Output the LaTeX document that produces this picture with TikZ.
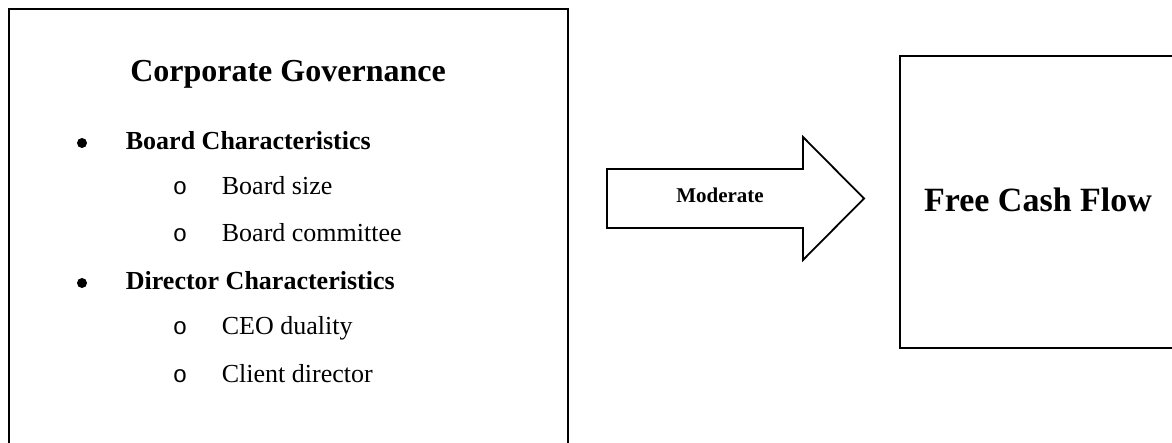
\documentclass[tikz,border=0pt]{standalone}
\usepackage{fontspec}
\setmainfont{Liberation Serif}
\newfontfamily\bulletfont{Liberation Mono}
\begin{document}
\begin{tikzpicture}[x=1pt, y=-1pt, line width=1.8pt, inner sep=0pt]
            \useasboundingbox (0,0) rectangle (1172,443);

            \tikzstyle{myBox}=[draw, rectangle, anchor=north west];
            \tikzstyle{myCir}=[circle, fill, minimum size=10pt];
            \tikzstyle{myTitle}=[anchor=base, font=\fontsize{32}{38}\selectfont\bfseries];
            \tikzstyle{myItem}=[anchor=base west, font=\fontsize{26}{31}\selectfont];
            \tikzstyle{mySub}=[anchor=base, font=\fontsize{24}{29}\selectfont\bulletfont];

            % left box
            \node[myBox, minimum width=559pt, minimum height=445pt] (cg) at (8,8) {};
            \node[myTitle] (title) at (288,82) {Corporate Governance};
            \node[myCir] (d1) at (82,143) {};
            \node[myItem, font=\fontsize{26}{31}\selectfont\bfseries] (board) at (125,150) {Board Characteristics};
            \node[mySub] (o1) at (180,195) {o};
            \node[myItem] (size) at (221,195) {Board size};
            \node[mySub] (o2) at (180,242) {o};
            \node[myItem] (comm) at (221,242) {Board committee};
            \node[myCir] (d2) at (82,283) {};
            \node[myItem, font=\fontsize{26}{31}\selectfont\bfseries] (dir) at (125,290) {Director Characteristics};
            \node[mySub] (o3) at (180,335) {o};
            \node[myItem] (ceo) at (221,335) {CEO duality};
            \node[mySub] (o4) at (180,382) {o};
            \node[myItem] (client) at (221,382) {Client director};

            % block arrow
            \draw[line join=miter] (607,169) -- (803,169) -- (803,137) -- (864,198.5)
                -- (803,260) -- (803,228) -- (607,228) -- cycle;
            \node[anchor=base, font=\fontsize{21}{25}\selectfont\bfseries] (mod) at (720,203) {Moderate};

            % right box
            \node[myBox, minimum width=290pt, minimum height=292pt] (fcf) at (899,55) {};
            \node[myTitle, font=\fontsize{34}{40}\selectfont\bfseries] (cash) at (1038,212) {Free Cash Flow};
         \end{tikzpicture}
\end{document}
